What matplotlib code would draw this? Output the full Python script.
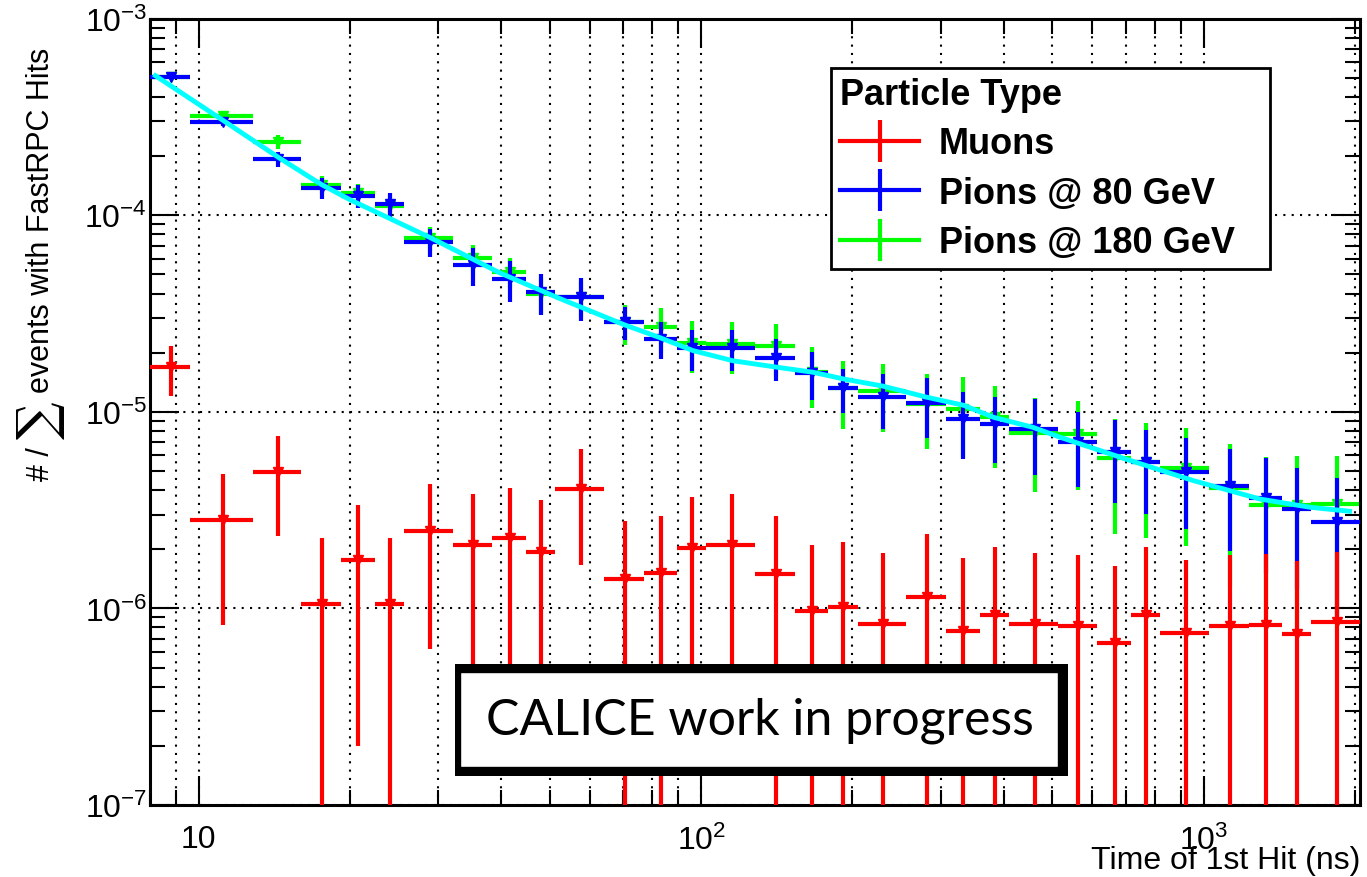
import numpy as np
import matplotlib
matplotlib.use('Agg')
import matplotlib.pyplot as plt
import matplotlib.ticker as ticker
from matplotlib.lines import Line2D
from matplotlib.patches import Rectangle

# bin edges of the time histogram (ns)
binEdges = [8, 9.6, 12.8, 16, 19.2, 22.4, 25.6, 32, 38.4, 44.8, 51.2, 64, 76.8, 89.6,
            102.4, 128, 153.6, 179.2, 204.8, 256, 307.2, 358.4, 409.6, 512, 614.4,
            716.8, 819.2, 1024, 1228.8, 1433.6, 1638.4, 2048]

muonVals = [1.69e-5, 2.82e-6, 4.93e-6, 1.055e-6, 1.77e-6, 1.055e-6, 2.47e-6, 2.11e-6,
            2.28e-6, 1.94e-6, 4.06e-6, 1.41e-6, 1.51e-6, 2.02e-6, 2.11e-6, 1.50e-6,
            0.967e-6, 1.014e-6, 0.834e-6, 1.14e-6, 0.771e-6, 0.927e-6, 0.834e-6,
            0.812e-6, 0.670e-6, 0.927e-6, 0.748e-6, 0.818e-6, 0.827e-6, 0.740e-6, 0.857e-6]
muonErrs = [0.48e-5, 2.0e-6, 2.6e-6, 1.22e-6, 1.57e-6, 1.22e-6, 1.85e-6, 1.7e-6,
            1.8e-6, 1.64e-6, 2.4e-6, 1.39e-6, 1.43e-6, 1.65e-6, 1.71e-6, 1.44e-6,
            1.14e-6, 1.17e-6, 1.08e-6, 1.25e-6, 1.03e-6, 1.12e-6, 1.08e-6,
            1.06e-6, 0.97e-6, 1.12e-6, 1.02e-6, 1.06e-6, 1.07e-6, 1.01e-6, 1.07e-6]

pion80Vals = [5.07e-4, 2.99e-4, 1.93e-4, 1.38e-4, 1.26e-4, 1.14e-4, 7.34e-5, 5.58e-5,
              4.74e-5, 4.06e-5, 3.85e-5, 2.88e-5, 2.35e-5, 2.11e-5, 2.11e-5, 1.89e-5,
              1.58e-5, 1.32e-5, 1.19e-5, 1.11e-5, 9.16e-6, 8.68e-6, 8.19e-6, 7.05e-6,
              6.27e-6, 5.54e-6, 4.93e-6, 4.22e-6, 3.66e-6, 3.21e-6, 2.76e-6]
pion80Errs = [1.2e-5, 1.6e-5, 1.6e-5, 1.7e-5, 1.7e-5, 1.56e-5, 1.2e-5, 1.23e-5,
              1.11e-5, 0.95e-5, 0.96e-5, 0.55e-5, 0.5e-5, 0.5e-5, 0.5e-5, 0.46e-5,
              0.43e-5, 0.33e-5, 0.37e-5, 0.37e-5, 3.4e-6, 3.2e-6, 3.4e-6, 2.9e-6,
              2.85e-6, 2.5e-6, 2.4e-6, 2.26e-6, 2.15e-6, 1.96e-6, 1.85e-6]

pion180Vals = [5.05e-4, 3.19e-4, 2.37e-4, 1.43e-4, 1.30e-4, 1.11e-4, 7.64e-5, 6.04e-5,
               5.13e-5, 3.98e-5, 3.83e-5, 2.85e-5, 2.69e-5, 2.24e-5, 2.21e-5, 2.16e-5,
               1.6e-5, 1.32e-5, 1.27e-5, 1.10e-5, 1.04e-5, 9.38e-6, 7.81e-6, 7.72e-6,
               5.80e-6, 5.53e-6, 5.17e-6, 4.09e-6, 3.34e-6, 3.36e-6, 3.40e-6]
pion180Errs = [1.2e-5, 1.7e-5, 1.9e-5, 1.5e-5, 1.5e-5, 1.5e-5, 1.05e-5, 1.0e-5,
               0.91e-5, 0.84e-5, 0.8e-5, 0.66e-5, 0.7e-5, 0.67e-5, 0.66e-5, 0.65e-5,
               0.55e-5, 0.5e-5, 0.48e-5, 0.45e-5, 0.46e-5, 4.2e-6, 3.9e-6, 3.7e-6,
               3.4e-6, 3.26e-6, 3.1e-6, 2.8e-6, 2.55e-6, 2.6e-6, 2.55e-6]

# fit curve
fitTimes = [8.2, 11.2, 14.5, 17.5, 20.0, 29.2, 39.7, 52.2, 70.4, 82.6, 96.3, 115.6, 140.8,
            167, 192, 230.6, 280, 333, 382, 457, 518, 699, 954, 1296, 1630, 1952]
fitVals = [5.13e-4, 3.03e-4, 1.95e-4, 1.44e-4, 1.2e-4, 7.6e-5, 5.1e-5, 3.78e-5, 2.77e-5,
           2.39e-5, 2.05e-5, 1.82e-5, 1.69e-5, 1.59e-5, 1.47e-5, 1.35e-5, 1.19e-5,
           1.08e-5, 9.38e-6, 8.35e-6, 7.43e-6, 5.76e-6, 4.47e-6, 3.6e-6, 3.27e-6, 3.12e-6]

seriesLabels = ['Muons', 'Pions @ 80 GeV', 'Pions @ 180 GeV']
seriesColors = ['#ff0000', '#0000ff', '#00ff00']
xTicks = [10, 100, 1000]
xTickLabels = ['10', r'$\mathdefault{10^{2}}$', r'$\mathdefault{10^{3}}$']

plt.rcParams['font.family'] = ['Liberation Sans', 'DejaVu Sans']
plt.rcParams['mathtext.fontset'] = 'custom'
plt.rcParams['mathtext.rm'] = 'Liberation Sans'
plt.rcParams['mathtext.it'] = 'Liberation Sans:italic'
plt.rcParams['mathtext.bf'] = 'Liberation Sans:bold'
plt.rcParams['axes.unicode_minus'] = False

W, H = 1367, 878
fig = plt.figure(figsize=(W / 100, H / 100), dpi=100)
ax = fig.add_axes([150 / W, 1 - 806 / H, 1210 / W, 786.3 / H])

edges = np.array(binEdges)
centers = (edges[:-1] + edges[1:]) / 2
xLo = centers - edges[:-1]
xHi = edges[1:] - centers


def drawHist(vals, errs, color, z):
    vals = np.array(vals)
    errs = np.array(errs)
    lower = np.minimum(errs, vals - 1e-9)
    ax.errorbar(centers, vals, xerr=[xLo, xHi], yerr=[lower, errs], fmt='v',
                color=color, ms=7, elinewidth=3, capsize=0, zorder=z)


ax.set_xscale('log')
ax.set_yscale('log')

drawHist(pion180Vals, pion180Errs, seriesColors[2], 2)
drawHist(pion80Vals, pion80Errs, seriesColors[1], 3)
ax.plot(fitTimes, fitVals, color='#00ffff', lw=3.5, zorder=4)
drawHist(muonVals, muonErrs, seriesColors[0], 5)

ax.set_xlim(edges[0], edges[-1])
ax.set_ylim(1e-7, 1e-3)

ax.set_axisbelow(True)
ax.grid(True, which='major', axis='both', linestyle=(0, (1, 3)), color='black', lw=1.5)
ax.grid(True, which='minor', axis='x', linestyle=(0, (1, 3)), color='black', lw=1.5)

ax.set_xticks(xTicks)
ax.set_xticklabels(xTickLabels)
ax.xaxis.set_minor_formatter(ticker.NullFormatter())
ax.yaxis.set_minor_locator(ticker.LogLocator(base=10, subs=np.arange(2, 10)))
ax.yaxis.set_minor_formatter(ticker.NullFormatter())

ax.tick_params(which='both', direction='in', top=True, right=True, labelsize=23)
ax.tick_params(which='major', length=21, width=1.5)
ax.tick_params(which='minor', length=11, width=1.5)
ax.tick_params(axis='x', which='major', pad=14)
ax.tick_params(axis='y', which='major', pad=2)
for s in ax.spines.values():
    s.set_linewidth(2.2)

# y title in three parts so the sum sign can be big
fig.text(41 / W, 1 - 393 / H, 'events with FastRPC Hits', rotation=90, ha='center',
         va='bottom', fontsize=22)
fig.text(40 / W, 1 - 420 / H, '\u2211', rotation=90, ha='center', va='center',
         fontsize=38, family='DejaVu Serif')
fig.text(41 / W, 1 - 447 / H, '# /', rotation=90, ha='center', va='top', fontsize=22)
fig.text(1360 / W, 1 - 861 / H, 'Time of 1st Hit (ns)', ha='right', va='center', fontsize=23)

legTop = (806 - 69) / 786.3
handles = [Line2D([], [], color=c, lw=3, marker='|', ms=30, mew=3) for c in seriesColors]
leg = ax.legend(handles, seriesLabels, title='Particle Type', loc='upper left',
                bbox_to_anchor=((831 - 150) / 1210, legTop - 0.01, (1270 - 831) / 1210, 0.01),
                mode='expand', prop={'weight': 'bold', 'size': 26},
                title_fontproperties={'weight': 'bold', 'size': 26}, alignment='left',
                frameon=True, fancybox=False, edgecolor='black', framealpha=1,
                handlelength=2.2, handletextpad=0.53, labelspacing=0.4, borderpad=0.25,
                borderaxespad=0)
leg.get_frame().set_linewidth(2)
leg.set_zorder(10)

# "work in progress" stamp
ax.add_patch(Rectangle((455 / W, 1 - 777 / H), 613 / W, 112 / H, transform=fig.transFigure,
                       facecolor='black', edgecolor='none', zorder=20, clip_on=False))
ax.add_patch(Rectangle((460 / W, 1 - 768 / H), 598 / W, 95 / H, transform=fig.transFigure,
                       facecolor='white', edgecolor='black', lw=1, zorder=21, clip_on=False))
ax.text(760 / W, 1 - 721 / H, 'CALICE work in progress', transform=fig.transFigure,
        ha='center', va='center', fontsize=36, family='Lato', zorder=22)

fig.savefig('out.png', dpi=100)
